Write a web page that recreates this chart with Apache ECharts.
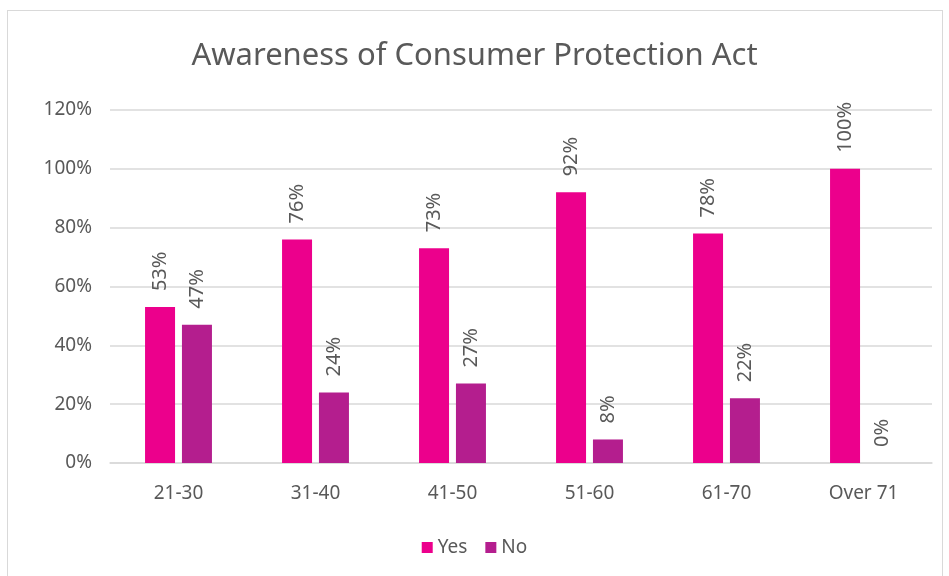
<!DOCTYPE html>
<html>
<head>
<meta charset="utf-8">
<script src="https://cdn.jsdelivr.net/npm/echarts@6/dist/echarts.min.js"></script>
<style>
  html, body { margin: 0; padding: 0; background: #fff; }
  #chart { position: absolute; left: 0; top: 0; width: 949px; height: 576px; }
  #frame { position: absolute; left: 7px; top: 10px; width: 936px; height: 570px; border: 1px solid #d9d9d9; box-sizing: border-box; }
</style>
</head>
<body>
<div id="frame"></div>
<div id="chart"></div>
<script>
// age groups and shares (percent)
const categories = ['21-30', '31-40', '41-50', '51-60', '61-70', 'Over 71'];
const yesValues = [53, 76, 73, 92, 78, 100];
const noValues = [47, 24, 27, 8, 22, 0];
const yTicks = { min: 0, max: 120, interval: 20 };

const FONT = 'Noto Sans';
const TEXT = '#595959';

const chart = echarts.init(document.getElementById('chart'), null, { renderer: 'canvas' });

const labelStyle = {
    show: true,
    position: 'top',
    rotate: 90,
    align: 'left',
    verticalAlign: 'middle',
    distance: 16,
    fontFamily: FONT,
    fontSize: 20,
    color: TEXT,
    formatter: p => p.value + '%',
};

chart.setOption({
    animation: false,
    title: {
        text: 'Awareness of Consumer Protection Act',
        left: 'center',
        top: 36,
        textStyle: { fontFamily: FONT, fontSize: 31, fontWeight: 'normal', color: TEXT },
    },
    legend: {
        bottom: 14,
        left: 'center',
        itemWidth: 11,
        itemHeight: 11,
        itemGap: 18,
        icon: 'rect',
        textStyle: { fontFamily: FONT, fontSize: 19, color: TEXT },
        data: ['Yes', 'No'],
    },
    grid: { left: 110, right: 17, top: 110, bottom: 113 },
    xAxis: {
        type: 'category',
        data: categories,
        axisTick: { show: false },
        axisLine: { lineStyle: { color: '#d9d9d9', width: 1.5 } },
        axisLabel: { fontFamily: FONT, fontSize: 19, color: TEXT, margin: 21 },
    },
    yAxis: {
        type: 'value',
        min: yTicks.min,
        max: yTicks.max,
        interval: yTicks.interval,
        axisLabel: { fontFamily: FONT, fontSize: 19, color: TEXT, margin: 18, formatter: v => v + '%' },
        splitLine: { lineStyle: { color: '#d9d9d9', width: 1.5 } },
    },
    series: [
        {
            name: 'Yes',
            type: 'bar',
            data: yesValues,
            barWidth: 30,
            barGap: '23%',
            itemStyle: { color: '#EC008C' },
            label: labelStyle,
        },
        {
            name: 'No',
            type: 'bar',
            data: noValues,
            barWidth: 30,
            itemStyle: { color: '#B41E8E' },
            label: labelStyle,
        },
    ],
});
</script>
</body>
</html>
